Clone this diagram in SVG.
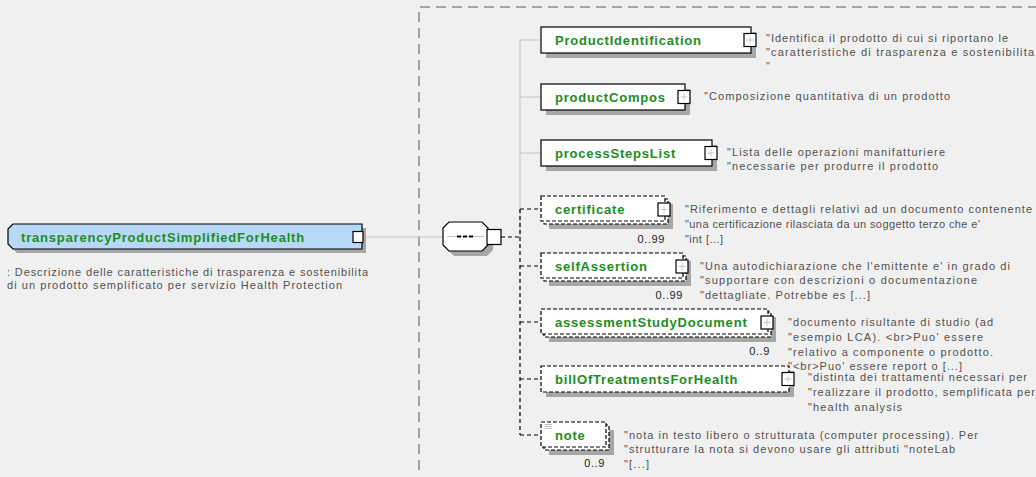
<svg xmlns="http://www.w3.org/2000/svg" width="1036" height="477" viewBox="0 0 1036 477">
<style>
.bg{fill:#f0f0f0}
.sh{fill:#a6a6a6}
.box{fill:#fff;stroke:#000;stroke-width:1.2}
.opt{fill:#fff;stroke:#000;stroke-width:1.2;stroke-dasharray:4 2}
.name{font-family:"Liberation Sans",Arial,sans-serif;font-weight:bold;font-size:13px;fill:#1e8c1e;letter-spacing:0.8px}
.desc{font-family:"Liberation Sans",Arial,sans-serif;font-size:11px;fill:#505050}
.occ{font-family:"Liberation Sans",Arial,sans-serif;font-size:11px;fill:#222;text-anchor:end;letter-spacing:0.6px}
.gl{stroke:#c4c4c4;stroke-width:1;fill:none}
.dl{stroke:#000;stroke-width:1.2;fill:none;stroke-dasharray:4 3}
.cont{stroke:#8a8a8a;stroke-width:1.5;fill:none;stroke-dasharray:10 6}
</style>
<defs>
<g id="plus">
<rect x="0" y="0" width="12" height="13" fill="#fff" stroke="#000" stroke-width="1.2"/>
<path d="M2.5 6.5H9.5M6 3V10" stroke="#c8c8c8" stroke-width="1"/>
</g>
</defs>
<rect class="bg" x="0" y="0" width="1036" height="477"/>
<path class="cont" d="M419 470V7H1036"/>

<g id="connectors">
<path class="gl" d="M364 237H443"/>
<path class="gl" d="M520 40V237M520 40H541M520 97H541M520 153H541"/>
<path class="dl" d="M501 237H520M520 209V435M520 209H541M520 266H541M520 322H541M520 379H541M520 435H541"/>
</g>

<g id="transparencyProductSimplifiedForHealth">
<path class="sh" d="M17 228H366V253H17L12 248V233Z"/>
<path d="M13 224H362V249H13L8 244V229Z" fill="#b8d8f8" stroke="#000" stroke-width="1.2"/>
<rect x="353" y="231.5" width="10" height="11" fill="#fff" stroke="#000" stroke-width="1.2"/>
<text class="name" x="21" y="241.5">transparencyProductSimplifiedForHealth</text>
<text class="desc" x="7" y="276" textLength="361" lengthAdjust="spacing">: Descrizione delle caratteristiche di trasparenza e sostenibilita</text>
<text class="desc" x="7" y="289" textLength="335" lengthAdjust="spacing">di un prodotto semplificato per servizio Health Protection</text>
</g>

<g id="sequence">
<path class="sh" d="M454 227H487L493 233V250L487 256H454L448 250V233Z"/>
<path d="M449 222H482L488 228V245L482 251H449L443 245V228Z" fill="#fff" stroke="#000" stroke-width="1.2"/>
<path d="M447 236.5H484" stroke="#c4c4c4" stroke-width="1"/>
<rect x="457" y="235.5" width="4" height="2" fill="#000"/>
<rect x="463" y="235.5" width="4" height="2" fill="#000"/>
<rect x="469" y="235.5" width="4" height="2" fill="#000"/>
<rect x="487" y="229.5" width="14" height="15" fill="#fff" stroke="#000" stroke-width="1.2"/>
</g>

<g id="ProductIdentification">
<rect class="sh" x="546" y="32" width="210" height="26"/>
<rect class="box" x="541" y="27" width="210" height="26"/>
<use href="#plus" x="744" y="33.5"/>
<text class="name" x="555" y="44.5">ProductIdentification</text>
<text class="desc" x="766" y="42" textLength="242" lengthAdjust="spacing">"Identifica il prodotto di cui si riportano le</text>
<text class="desc" x="766" y="56" textLength="268" lengthAdjust="spacing">"caratteristiche di trasparenza e sostenibilita</text>
<text class="desc" x="766" y="70">"</text>
</g>

<g id="productCompos">
<rect class="sh" x="546" y="89" width="144" height="26"/>
<rect class="box" x="541" y="84" width="144" height="26"/>
<use href="#plus" x="678" y="90.5"/>
<text class="name" x="555" y="101.5">productCompos</text>
<text class="desc" x="704" y="100" textLength="246" lengthAdjust="spacing">"Composizione quantitativa di un prodotto</text>
</g>

<g id="processStepsList">
<rect class="sh" x="546" y="145" width="171" height="26"/>
<rect class="box" x="541" y="140" width="171" height="26"/>
<use href="#plus" x="705" y="146.5"/>
<text class="name" x="555" y="157.5">processStepsList</text>
<text class="desc" x="727" y="156" textLength="218" lengthAdjust="spacing">"Lista delle operazioni manifatturiere</text>
<text class="desc" x="727" y="170" textLength="211" lengthAdjust="spacing">"necessarie per produrre il prodotto</text>
</g>

<g id="certificate">
<rect class="sh" x="549" y="204" width="124" height="25"/>
<rect class="opt" x="544" y="199" width="124" height="25"/>
<rect class="opt" x="541" y="196" width="124" height="25"/>
<use href="#plus" x="658" y="203"/>
<text class="name" x="555" y="213.5">certificate</text>
<text class="occ" x="665" y="243">0..99</text>
<text class="desc" x="685" y="213" textLength="347" lengthAdjust="spacing">"Riferimento e dettagli relativi ad un documento contenente</text>
<text class="desc" x="685" y="228" textLength="295" lengthAdjust="spacing">"una certificazione rilasciata da un soggetto terzo che e'</text>
<text class="desc" x="685" y="243" textLength="38" lengthAdjust="spacing">"int [...]</text>
</g>

<g id="selfAssertion">
<rect class="sh" x="549" y="261" width="142" height="25"/>
<rect class="opt" x="544" y="256" width="142" height="25"/>
<rect class="opt" x="541" y="253" width="142" height="25"/>
<use href="#plus" x="676" y="260"/>
<text class="name" x="555" y="270.5">selfAssertion</text>
<text class="occ" x="683" y="299">0..99</text>
<text class="desc" x="700" y="270" textLength="310" lengthAdjust="spacing">"Una autodichiarazione che l'emittente e' in grado di</text>
<text class="desc" x="700" y="284" textLength="277" lengthAdjust="spacing">"supportare con descrizioni o documentazione</text>
<text class="desc" x="700" y="299" textLength="170" lengthAdjust="spacing">"dettagliate. Potrebbe es [...]</text>
</g>

<g id="assessmentStudyDocument">
<rect class="sh" x="549" y="317" width="227" height="25"/>
<rect class="opt" x="544" y="312" width="227" height="25"/>
<rect class="opt" x="541" y="309" width="227" height="25"/>
<use href="#plus" x="761" y="316"/>
<text class="name" x="555" y="327">assessmentStudyDocument</text>
<text class="occ" x="770" y="355">0..9</text>
<text class="desc" x="788" y="326" textLength="205" lengthAdjust="spacing">"documento risultante di studio (ad</text>
<text class="desc" x="788" y="341" textLength="195" lengthAdjust="spacing">"esempio LCA). &lt;br&gt;Puo' essere</text>
<text class="desc" x="788" y="356" textLength="205" lengthAdjust="spacing">"relativo a componente o prodotto.</text>
<text class="desc" x="788" y="370" textLength="174" lengthAdjust="spacing">"&lt;br&gt;Puo' essere report o [...]</text>
</g>

<g id="billOfTreatmentsForHealth">
<rect class="sh" x="546" y="371" width="248" height="26"/>
<rect class="opt" x="541" y="366" width="248" height="26"/>
<use href="#plus" x="782" y="372.5"/>
<text class="name" x="555" y="383.5">billOfTreatmentsForHealth</text>
<text class="desc" x="808" y="381" textLength="219" lengthAdjust="spacing">"distinta dei trattamenti necessari per</text>
<text class="desc" x="808" y="396" textLength="227" lengthAdjust="spacing">"realizzare il prodotto, semplificata per</text>
<text class="desc" x="808" y="411" textLength="94" lengthAdjust="spacing">"health analysis</text>
</g>

<g id="note">
<rect class="sh" x="549" y="430" width="65" height="25"/>
<rect class="opt" x="544" y="425" width="65" height="25"/>
<rect class="opt" x="541" y="422" width="65" height="25"/>
<path d="M545 424.5H552M545 426.5H552M545 428.5H552" stroke="#bbb" stroke-width="1"/>
<text class="name" x="555" y="439.5">note</text>
<text class="occ" x="605" y="467">0..9</text>
<text class="desc" x="624" y="439" textLength="354" lengthAdjust="spacing">"nota in testo libero o strutturata (computer processing). Per</text>
<text class="desc" x="624" y="453" textLength="331" lengthAdjust="spacing">"strutturare la nota si devono usare gli attributi "noteLab</text>
<text class="desc" x="624" y="468" textLength="25" lengthAdjust="spacing">"[...]</text>
</g>
</svg>
